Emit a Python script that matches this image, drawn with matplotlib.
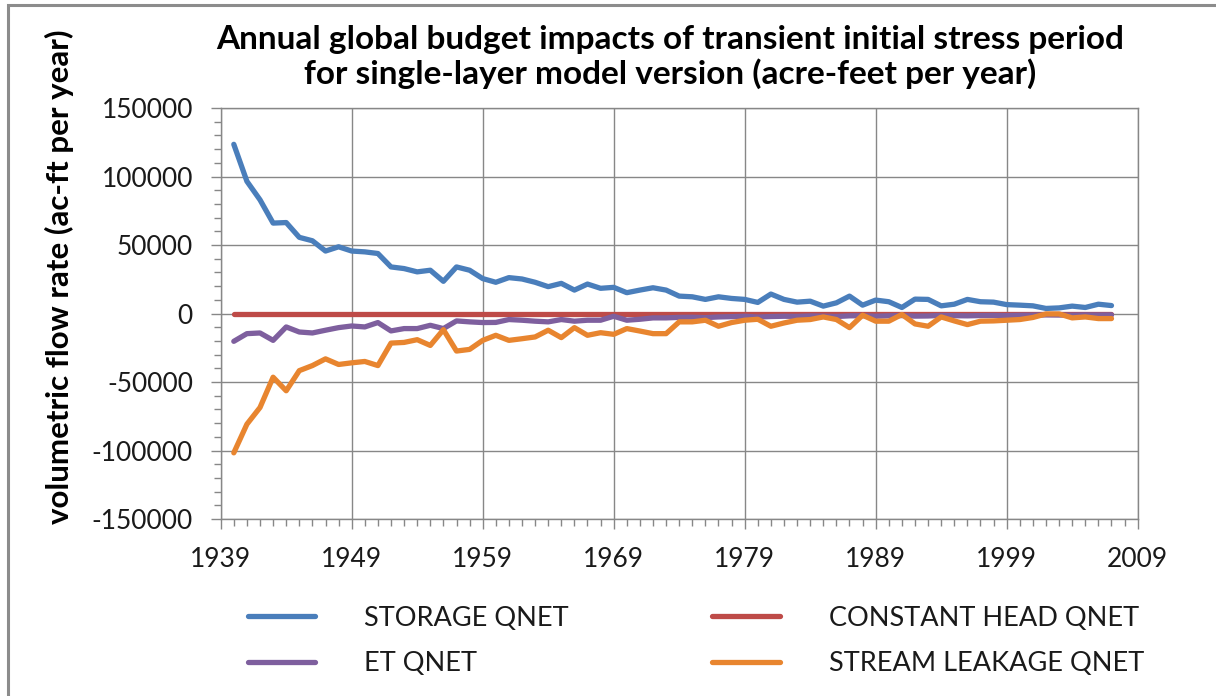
import numpy as np
import matplotlib
matplotlib.use("Agg")
import matplotlib.pyplot as plt
from matplotlib.ticker import MultipleLocator
from matplotlib.patches import Rectangle

plt.rcParams['font.family'] = ['Lato', 'DejaVu Sans']
plt.rcParams['axes.unicode_minus'] = False

# ---- data (ac-ft per year), 1940-2007 ----
years = np.arange(1940, 2008)

storage_qnet = [123500, 96500, 83000, 66000, 66400, 55600, 53100, 45600, 48700, 45600,
                45000, 43800, 34000, 32800, 30400, 31600, 23500, 34000, 31600, 25500,
                22800, 26200, 25200, 22800, 19600, 22000, 17100, 21500, 18400, 19100,
                15200, 17100, 18800, 17100, 12700, 12200, 10300, 12200, 11000, 10300,
                8100, 14200, 10300, 8300, 9000, 5400, 7800, 12700, 6100, 9800,
                8600, 4400, 10500, 10300, 5600, 6800, 10300, 8600, 8300, 6500,
                6100, 5600, 3700, 4100, 5400, 4400, 6800, 5800]

constant_head_qnet = [0] * 68

et_qnet = [-20300, -14700, -14200, -19600, -9800, -13500, -14200, -12200, -10300, -9100,
           -9800, -6600, -12700, -11000, -11000, -8600, -11000, -5400, -6100, -6600,
           -6500, -4400, -4900, -5600, -6100, -4400, -5600, -4900, -4900, -2000,
           -4900, -4200, -3200, -3200, -2800, -2700, -3000, -2500, -2300, -2000,
           -2600, -2200, -2000, -2100, -1800, -1900, -2200, -1700, -1600, -2000,
           -1700, -1500, -1900, -1800, -1400, -1600, -1700, -1500, -1400, -1500,
           -1300, -1200, -1000, -1100, -1200, -1000, -1100, -1000]

stream_leakage_qnet = [-101700, -80800, -68600, -46500, -56400, -41700, -38000, -33100, -37200, -36000,
                       -35000, -38000, -21600, -21100, -19100, -23300, -11800, -27400, -26200, -19600,
                       -15900, -19600, -18400, -17100, -12200, -17600, -10300, -15900, -14000, -15200,
                       -11000, -12800, -14700, -14700, -6100, -6100, -4900, -9300, -6600, -4900,
                       -4200, -9300, -6900, -4900, -4400, -2500, -4400, -10300, -1200, -5600,
                       -5600, -700, -7600, -9300, -2500, -5400, -8100, -5600, -5400, -4900,
                       -4400, -2900, -300, -300, -3200, -2500, -3700, -3700]

series_names = ["STORAGE QNET", "CONSTANT HEAD QNET", "ET QNET", "STREAM LEAKAGE QNET"]
series_colors = ["#4A7EBB", "#BE4B48", "#7E5F9E", "#E8852F"]
x_ticks = np.arange(1939, 2010, 10)

# ---- figure ----
fig = plt.figure(figsize=(12.16, 6.96), dpi=100)
ax = fig.add_axes([0.1815, 0.2543, 0.7541, 0.5905])

grid_c = "#878787"
lines = []
for vals, name, col in zip([storage_qnet, constant_head_qnet, et_qnet, stream_leakage_qnet],
                           series_names, series_colors):
    ln, = ax.plot(years, vals, color=col, lw=3.8, label=name,
                  solid_capstyle="round", solid_joinstyle="round", zorder=3,
                  clip_on=False)
    lines.append(ln)

ax.set_xlim(1939, 2009)
ax.set_ylim(-150000, 150000)
ax.set_xticks(x_ticks)
ax.xaxis.set_minor_locator(MultipleLocator(1))
ax.yaxis.set_major_locator(MultipleLocator(50000))
ax.yaxis.set_minor_locator(MultipleLocator(10000))

ax.grid(True, which="major", color=grid_c, lw=1.0)
ax.set_axisbelow(True)
for side in ["left", "bottom", "top", "right"]:
    ax.spines[side].set_color(grid_c)
    ax.spines[side].set_linewidth(1.0)

ax.tick_params(which="major", direction="out", length=7, width=1, color=grid_c,
               labelsize=19, labelcolor="#1a1a1a")
ax.tick_params(which="minor", direction="out", length=5, width=1, color=grid_c)
ax.tick_params(axis="x", which="major", pad=13)
ax.tick_params(axis="y", which="major", pad=13)

fig.text(0.551, 0.918, "Annual global budget impacts of transient initial stress period\n"
         "for single-layer model version (acre-feet per year)",
         ha="center", va="center", fontsize=24, fontweight="bold", linespacing=1.15)

fig.text(0.049, 0.603, "volumetric flow rate (ac-ft per year)", rotation=90,
         ha="center", va="center", fontsize=22.5, fontweight="bold")

# legend: rows STORAGE | CONSTANT HEAD, ET | STREAM LEAKAGE
order = [0, 2, 1, 3]
leg = ax.legend([lines[i] for i in order], [series_names[i] for i in order],
                ncol=2, loc="center", bbox_to_anchor=(0.518, -0.297),
                frameon=False, fontsize=19.5, handlelength=2.5, handletextpad=1.8,
                columnspacing=5.3, labelspacing=0.75, borderpad=0.2)
for t in leg.get_texts():
    t.set_color("#1a1a1a")

# chart area border
fig.patches.append(Rectangle((8 / 1216, -0.1), 1.2, 1.1 - 5 / 696,
                             transform=fig.transFigure, fill=False,
                             edgecolor="#8c8c8c", lw=2.2))

fig.savefig("out.png", dpi=100)
